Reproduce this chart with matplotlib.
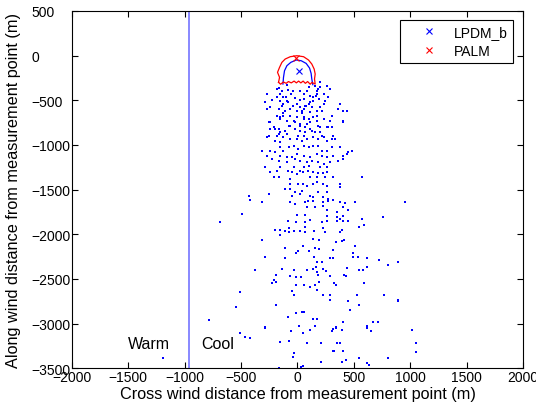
import matplotlib
matplotlib.use("Agg")
import matplotlib.pyplot as plt
from matplotlib.lines import Line2D

plt.rcParams['font.family'] = ['Liberation Sans', 'DejaVu Sans']

# LPDM_b particle footprint points (cross-wind, along-wind) in metres
lpdm_band0 = [(-183,-374),(-153,-430),(-124,-467),(-94,-505),(-138,-561),(-109,-617),(-64,-673),
    (-35,-729),(-79,-785),(-153,-710),(-183,-673),(-197,-822),(-168,-878),(-109,-841),(-20,-822),
    (24,-785),(54,-710),(39,-617),(68,-561),(113,-523),(142,-467),(172,-430),(186,-374),(157,-337),
    (201,-299),(231,-542),(216,-617),(231,-710),(186,-785),(157,-859),(113,-822),(83,-766),(9,-897),
    (54,-897),(216,-897),(275,-803),(290,-374),(-241,-747)]
lpdm_band1 = [(-271,-430),(-227,-497),(-286,-523),(-242,-579),(-183,-467),(-153,-505),(-124,-542),
    (-168,-598),(-109,-617),(-64,-598),(-138,-393),(-88,-385),(-41,-393),(24,-393),(54,-430),(83,-393),
    (113,-449),(142,-505),(98,-542),(54,-598),(24,-579),(-5,-617),(172,-393),(201,-355),(231,-430),
    (245,-505),(201,-579),(260,-337),(290,-374),(275,-467),(378,-542),(363,-598),(437,-617),(172,-617),
    (113,-635),(-60,-430),(-20,-470),(20,-500),(60,-480),(-100,-460),(0,-540),(80,-560),(-40,-560),
    (130,-580),(-80,-520),(40,-640),(-130,-640),(160,-450),(100,-350),(-160,-360),(-90,-330),(190,-480),
    (-271,-598),(405,-617)]
lpdm_band2 = [(-256,-747),(-242,-822),(-212,-803),(-168,-822),(-153,-859),(-183,-897),(-94,-729),
    (-64,-785),(-20,-822),(24,-766),(68,-803),(113,-747),(172,-729),(201,-803),(260,-803),(304,-803),
    (290,-729),(304,-673),(408,-729),(-153,-691),(-124,-673),(-64,-673),(-6,-691),(54,-691),(98,-710),
    (142,-691),(172,-673),(-20,-747),(24,-841),(68,-859),(127,-841),(201,-859),(231,-915),(319,-897),
    (-256,-897),(-271,-915),(-197,-953),(-153,-971),(-124,-915),(-94,-878),(-64,-934),(-6,-934),
    (39,-953),(83,-934),(142,-915),(186,-934),(260,-953),(304,-934),(334,-934),(-153,-1027),
    (-124,-1065),(-79,-1027),(-35,-1009),(9,-1046),(54,-1009),(98,-1027),(142,-1009),(186,-1009),
    (216,-1065),(260,-1065),(304,-1027),(378,-1027),(452,-1083),(-315,-1065),(-242,-1065),
    (-197,-1083),(-153,-1121),(-94,-1139),(-50,-1139),(-6,-1102),(54,-1121),(113,-1139),(172,-1102),
    (216,-1121),(260,-1139),(319,-1121),(408,-1121),(408,-1158),(437,-1102),(-271,-1121),(-227,-1158),
    (-168,-1177),(-94,-1195),(-20,-1158),(24,-1177),(83,-1195),(127,-1177),(186,-1195),(231,-1214),
    (290,-1195),(363,-1177),(-286,-1251),(-153,-1251),(-35,-1251),(54,-1251),(98,-1233),(201,-1251),
    (260,-1251),(481,-1065),(405,-744)]
lpdm_band3 = [(-242,-1307),(-183,-1289),(-212,-1363),(-168,-1363),(-80,-1289),(-50,-1307),(-6,-1326),
    (24,-1289),(53,-1307),(97,-1289),(142,-1307),(186,-1315),(230,-1315),(265,-1307),(112,-1363),
    (171,-1363),(245,-1363),(319,-1363),(569,-1363),(-65,-1382),(-65,-1438),(9,-1438),(53,-1438),
    (83,-1457),(142,-1438),(171,-1419),(230,-1438),(260,-1457),(378,-1438),(378,-1475),(-109,-1494),
    (-65,-1494),(-21,-1531),(38,-1513),(186,-1531),(260,-1531),(-434,-1569),(-257,-1550),(-50,-1569),
    (24,-1550),(112,-1569),(142,-1587),(230,-1587),(274,-1606),(-419,-1613),(-316,-1636),(-65,-1643),
    (-21,-1662),(68,-1643),(97,-1625),(142,-1625),(230,-1643),(274,-1625),(319,-1613),(378,-1643),
    (422,-1651),(510,-1643),(953,-1636),(83,-1699),(156,-1699),(230,-1680),(260,-1725),(407,-1699),
    (451,-1725),(-493,-1774),(-6,-1781),(68,-1785),(260,-1793),(348,-1755),(407,-1793),(348,-1811),
    (378,-1830),(569,-1830),(761,-1804),(-685,-1867),(-80,-1849),(-12,-1860),(68,-1867),(112,-1837),
    (215,-1860),(260,-1849),(348,-1849),(407,-1849),(451,-1849)]
lpdm_band4 = [(-316,-2061),(-198,-1953),(-153,-1953),(-153,-2005),(-109,-1968),(-71,-1931),(-71,-1979),
    (-30,-1968),(24,-1968),(68,-1916),(68,-1979),(147,-1961),(230,-1931),(245,-1979),(378,-1979),
    (392,-1949),(549,-1916),(593,-1897),(142,-2054),(195,-2065),(339,-2084),(392,-2080),(413,-2061),
    (-109,-2155),(9,-2185),(-12,-2211),(47,-2129),(106,-2185),(156,-2155),(195,-2170),(319,-2177),
    (510,-2129),(490,-2211),(-286,-2252),(-109,-2267),(147,-2259),(171,-2315),(215,-2315),(289,-2267),
    (319,-2267),(490,-2259),(534,-2259),(614,-2267),(725,-2289),(805,-2341),(888,-2308),(-375,-2397),
    (-139,-2390),(-35,-2401),(88,-2397),(136,-2390),(165,-2364),(224,-2390),(254,-2409),(437,-2382),
    (549,-2397),(578,-2397),(614,-2364),(-189,-2453),(-65,-2465),(-12,-2483),(29,-2483),(171,-2427),
    (186,-2453),(289,-2465),(413,-2453),(431,-2465)]
lpdm_band5 = [(-212,-2513),(-188,-2539),(-227,-2547),(-11,-2569),(54,-2569),(107,-2595),(157,-2569),
    (177,-2621),(189,-2532),(325,-2547),(343,-2569),(593,-2547),(-507,-2644),(-50,-2640),(-29,-2681),
    (225,-2681),(290,-2681),(290,-2733),(446,-2745),(531,-2681),(767,-2681),(888,-2733),(888,-2752),
    (549,-2789),(-188,-2789),(-542,-2812),(467,-2849),(-11,-2883),(39,-2868),(54,-2868),(-85,-2931),
    (136,-2943),(171,-2943),(-787,-2961),(408,-2987),(667,-2987),(711,-2987),(-286,-3043),(12,-3025),
    (157,-3025),(343,-3043),(614,-3032),(614,-3051)]
lpdm_band6 = [(-507,-3103),(-463,-3152),(-424,-3159),(-286,-3051),(-59,-3085),(48,-3103),(107,-3070),
    (304,-3085),(313,-3059),(343,-3051),(393,-3066),(614,-3051),(652,-3085),(1012,-3066),(-153,-3208),
    (-79,-3189),(83,-3219),(207,-3219),(348,-3219),(378,-3219),(1051,-3219),(313,-3301),(328,-3309),
    (402,-3301),(-29,-3327),(-41,-3376),(210,-3425),(393,-3425),(428,-3406),(549,-3383),(614,-3443),
    (635,-3458),(806,-3383),(-1191,-3383),(1051,-3320),(48,-3469),(33,-3480),(-168,-3495)]

# LPDM_b contour (open, enclosing the maximum)
lpdm_contour_x = [-129, -124, -115, -94, -59, -11, 33, 77, 107, 121, 127, 136]
lpdm_contour_y = [-318, -243, -169, -113, -75, -49, -57, -87, -139, -199, -262, -325]
# PALM contour
palm_contour_x = [-168, -159, -177, -159, -138, -109, -64, -5, 54, 98, 127, 148, 157, 151, 157,
                  128, 113, 90, 70, 50, 30, 10, -10, -30, -55, -80, -100, -125, -150, -168]
palm_contour_y = [-299, -243, -187, -131, -75, -38, -12, -1, -12, -49, -94, -150, -206, -262, -318,
                  -300, -320, -290, -310, -285, -305, -285, -305, -285, -305, -290, -310, -295, -320, -299]
# maxima
lpdm_max = (15, -170)
palm_max = (-14, -27)
boundary_x = -960

pts = lpdm_band0 + lpdm_band1 + lpdm_band2 + lpdm_band3 + lpdm_band4 + lpdm_band5 + lpdm_band6
px = [p[0] for p in pts]
py = [p[1] for p in pts]

fig = plt.figure(figsize=(5.36, 4.10), dpi=100)
ax = fig.add_axes([0.1343, 0.0993, 0.8414, 0.8715])

ax.plot(px, py, linestyle='none', marker='s', ms=1.8, mew=0, color='#0000ff')
ax.plot(lpdm_contour_x, lpdm_contour_y, color='#0000ff', lw=0.9)
ax.plot(palm_contour_x, palm_contour_y, color='#ff0000', lw=0.9)
ax.plot([lpdm_max[0]], [lpdm_max[1]], linestyle='none', marker='x', ms=5, mew=0.8, color='#0000ff')
ax.plot([palm_max[0]], [palm_max[1]], linestyle='none', marker='x', ms=5, mew=0.8, color='#ff0000')
ax.axvline(boundary_x, color='#7f7fff', lw=1.3)

ax.text(-1500, -3220, 'Warm', fontsize=11.5, va='center', ha='left')
ax.text(-855, -3220, 'Cool', fontsize=11.5, va='center', ha='left')

ax.set_xlim(-2000, 2000)
ax.set_ylim(-3500, 500)
ax.set_xticks(range(-2000, 2001, 500))
ax.set_yticks(range(-3500, 501, 500))
ax.tick_params(direction='in', top=True, right=True, labelsize=10, length=4, width=0.8)
ax.tick_params(axis='x', pad=1.5)
ax.tick_params(axis='y', pad=29)
for lab in ax.get_yticklabels():
    lab.set_horizontalalignment('left')
for s in ax.spines.values():
    s.set_linewidth(0.8)
ax.set_xlabel('Cross wind distance from measurement point (m)', fontsize=11.7, labelpad=1)
ax.set_ylabel('Along wind distance from measurement point (m)', fontsize=11.7, labelpad=1)
ax.yaxis.set_label_coords(-0.112, 0.5)

handles = [Line2D([], [], linestyle='none', marker='x', ms=5, mew=0.8, color='#0000ff'),
           Line2D([], [], linestyle='none', marker='x', ms=5, mew=0.8, color='#ff0000')]
leg = ax.legend(handles, ['LPDM_b', 'PALM'], loc='upper right', bbox_to_anchor=(0.978, 0.975),
                borderaxespad=0, fontsize=10, fancybox=False, edgecolor='black', framealpha=1,
                borderpad=0.35, handlelength=3.4, handletextpad=0.15, labelspacing=0.37)
leg.get_frame().set_linewidth(0.8)

fig.savefig('out.png', dpi=100)
